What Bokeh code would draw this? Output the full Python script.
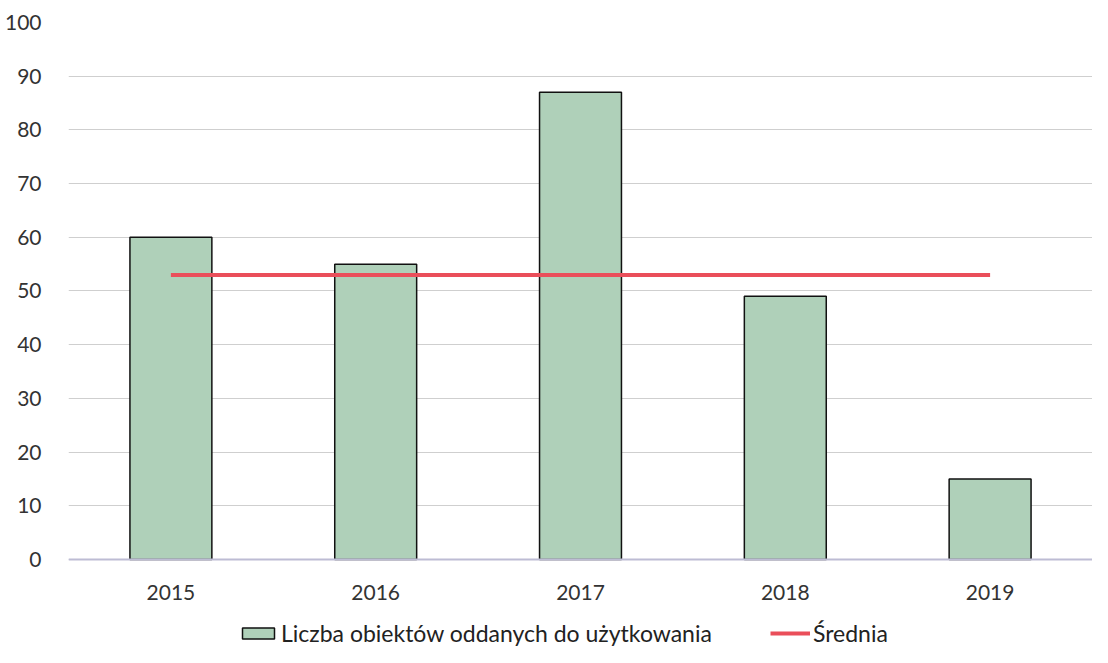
from bokeh.plotting import figure
from bokeh.models import ColumnDataSource, FactorRange, Range1d, Legend, LegendItem, FixedTicker
from bokeh.embed import file_html
from bokeh.resources import INLINE

years = ["2015", "2016", "2017", "2018", "2019"]
liczba = [60, 55, 87, 49, 15]
srednia = [53, 53, 53, 53, 53]
y_ticks = [0, 10, 20, 30, 40, 50, 60, 70, 80, 90, 100]

FONT = "Lato"

src = ColumnDataSource(dict(x=years, liczba=liczba, srednia=srednia))

# frame spans the full height; 0 sits at 559 px, 100 at 22 px
p = figure(width=1092, height=647, x_range=FactorRange(*years, range_padding=0),
           y_range=Range1d(-16.39, 100), output_backend="svg", toolbar_location=None,
           min_border_left=68, min_border_right=0, min_border_top=22, min_border_bottom=0)
p.outline_line_color = None

bars = p.vbar(x="x", top="liczba", width=0.4, source=src, fill_color="#afd0b9",
              line_color="#111111", line_width=1.5)
line = p.line(x="x", y="srednia", source=src, line_color="#ea4e5a", line_width=4)

p.yaxis.ticker = FixedTicker(ticks=y_ticks)
p.yaxis.axis_line_color = None
p.yaxis.major_tick_line_color = None
p.yaxis.minor_tick_line_color = None
p.yaxis.major_label_text_font = FONT
p.yaxis.major_label_text_font_size = "21px"
p.yaxis.major_label_text_color = "#333333"
p.yaxis.major_label_standoff = 21

p.xaxis.fixed_location = 0
p.xaxis.axis_line_color = "#bdbcd4"
p.xaxis.axis_line_width = 2
p.xaxis.major_tick_line_color = None
p.xaxis.minor_tick_line_color = None
p.xaxis.major_label_text_font = FONT
p.xaxis.major_label_text_font_size = "21px"
p.xaxis.major_label_text_color = "#333333"
p.xaxis.major_label_standoff = 20

p.xgrid.grid_line_color = None
p.ygrid.grid_line_color = "#cfcfcf"
p.ygrid.grid_line_width = 1.2

legend = Legend(items=[LegendItem(label="Liczba obiektów oddanych do użytkowania", renderers=[bars]),
                       LegendItem(label="Średnia", renderers=[line])],
                orientation="horizontal", location=(170, 0),
                label_text_font=FONT, label_text_font_size="23px", label_text_color="#222222",
                glyph_width=40, glyph_height=14, label_standoff=3, spacing=58,
                border_line_color=None, background_fill_alpha=0, margin=0, padding=1)
p.add_layout(legend, "center")

open("out.html", "w").write(file_html(p, INLINE))
